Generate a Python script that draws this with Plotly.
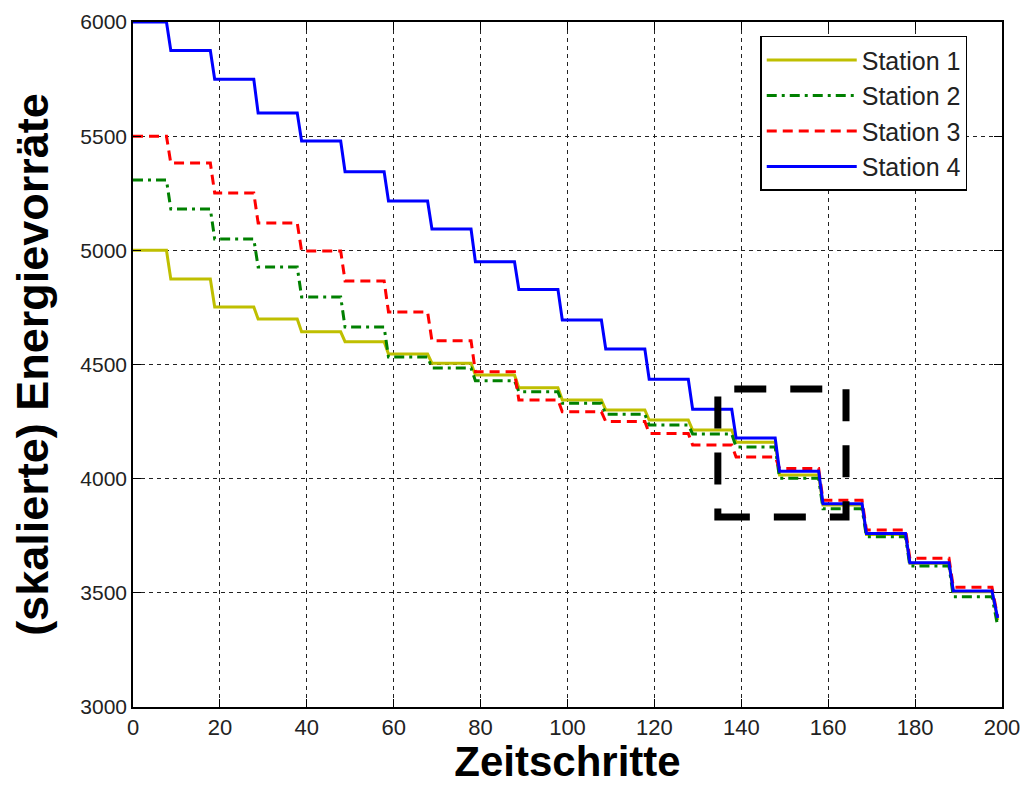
import plotly.graph_objects as go

# ---- data ----
drop_start = [7.7, 17.8, 27.8, 37.8, 47.8, 57.8, 67.8, 77.8, 87.8, 97.8,
              107.8, 117.8, 127.8, 137.8, 147.8, 157.8, 167.8, 177.8, 187.8, 197.7]
t_end = 199

station1 = [5000, 4874, 4752, 4699, 4643, 4600, 4546, 4506, 4454, 4398, 4345,
            4301, 4257, 4213, 4160, 4016, 3885, 3755, 3630, 3505, 3380]
station2 = [5308, 5181, 5050, 4927, 4796, 4664, 4533, 4485, 4429, 4381, 4330,
            4282, 4235, 4196, 4139, 4002, 3868, 3746, 3617, 3483, 3355]
station3 = [5500, 5382, 5251, 5120, 4997, 4866, 4730, 4604, 4468, 4345, 4293,
            4250, 4198, 4147, 4095, 4045, 3905, 3775, 3651, 3524, 3395]
station4 = [6000, 5875, 5749, 5601, 5479, 5344, 5216, 5093, 4950, 4829, 4695,
            4568, 4435, 4304, 4178, 4033, 3890, 3760, 3632, 3508, 3390]

names = ["Station 1", "Station 2", "Station 3", "Station 4"]
x_ticks = list(range(0, 201, 20))
y_ticks = list(range(3000, 6001, 500))

box_t = [134.6, 164.1]
box_e = [3832, 4393]

# ---- styles ----
colors = ["#bfbf00", "#008000", "#ff0000", "#0000ff"]
dashes = ["solid", "10px,5px,3px,5px", "10px,6px", "solid"]
drop_len = 1.0


def step_series(levels):
    xs, ys = [0], [levels[0]]
    n = len(drop_start)
    for k, s in enumerate(drop_start):
        xs.append(s)
        ys.append(levels[k])
        e = t_end if k == n - 1 else s + drop_len
        xs.append(e)
        ys.append(levels[k + 1])
    return xs, ys


fig = go.Figure()
for name, lv, c, d in zip(names, [station1, station2, station3, station4], colors, dashes):
    xs, ys = step_series(lv)
    fig.add_trace(go.Scatter(x=xs, y=ys, mode="lines", name=name,
                             line=dict(color=c, width=3, dash=d)))

fig.add_shape(type="rect", xref="x", yref="y",
              x0=box_t[0], x1=box_t[1], y0=box_e[0], y1=box_e[1],
              line=dict(color="black", width=7, dash="32px,24px"))

axis_common = dict(showline=True, linecolor="black", linewidth=1.5, mirror="ticks",
                   ticks="inside", ticklen=8, tickcolor="black", tickwidth=1.2,
                   showgrid=True, gridcolor="#222", griddash="4px,4px", gridwidth=1.3,
                   zeroline=False, automargin=False)

fig.update_xaxes(range=[0, 200], tickvals=x_ticks, **axis_common,
                 tickfont=dict(size=22, family="Liberation Sans, Arial", color="#222"),
                 title=dict(text="<b>Zeitschritte</b>", standoff=4,
                            font=dict(size=42, family="Liberation Sans, Arial", color="black")))
fig.update_yaxes(range=[3000, 6000], tickvals=y_ticks, **axis_common,
                 tickfont=dict(size=21, family="Liberation Sans, Arial", color="#222"),
                 title=dict(text="<b>(skalierte) Energievorräte</b>", standoff=18,
                            font=dict(size=45, family="Liberation Sans, Arial", color="black")))

fig.update_layout(
    width=1022, height=785,
    margin=dict(l=133, r=20, t=22, b=78),
    paper_bgcolor="white", plot_bgcolor="white",
    showlegend=True,
    legend=dict(x=0.96, xanchor="right", y=0.98, yanchor="top",
                bgcolor="white", bordercolor="black", borderwidth=1.5,
                font=dict(size=25, family="Liberation Sans, Arial", color="#222"),
                itemwidth=90),
)

fig.write_html("out.html", config={"displayModeBar": False},
               post_script="document.body.style.margin='0';")
